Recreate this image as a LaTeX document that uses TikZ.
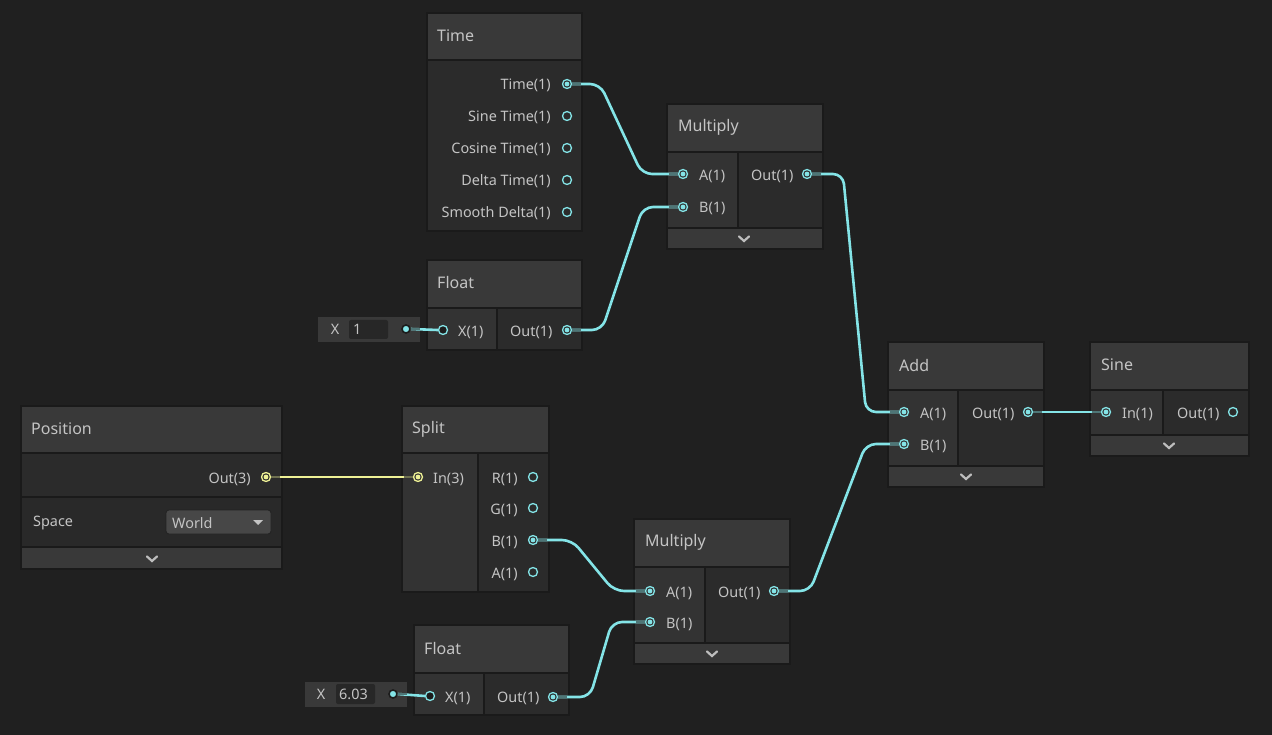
\documentclass[tikz,border=0pt]{standalone}
\usepackage{fontspec}
\setmainfont{Noto Sans}
\definecolor{bgc}{HTML}{202020}
\definecolor{hdrc}{HTML}{393939}
\definecolor{inc}{HTML}{333333}
\definecolor{outc}{HTML}{2B2B2B}
\definecolor{bordc}{HTML}{1A1A1A}
\definecolor{txtc}{HTML}{C4C4C4}
\definecolor{wcyan}{HTML}{84E4E7}
\definecolor{wdim}{HTML}{4E7677}
\definecolor{wyel}{HTML}{EEF195}
\definecolor{ydim}{HTML}{6E7050}
\definecolor{fieldc}{HTML}{393939}
\definecolor{boxc}{HTML}{272727}
\definecolor{dropc}{HTML}{474747}
\definecolor{holec}{HTML}{1C1C1C}
\begin{document}
\begin{tikzpicture}[x=1pt,y=-1pt,
  lbl/.style={font=\fontsize{14.4}{16}\selectfont, text=txtc, inner sep=0pt},
  ttl/.style={font=\fontsize{16}{18}\selectfont, text=txtc, anchor=west, inner sep=0pt},
  bline/.style={draw=bordc, line width=1.5pt},
  port/.style={circle, draw=wcyan, line width=1.3pt, minimum size=9pt, inner sep=0pt, fill=outc},
  conn/.style={path picture={\fill[wcyan] (path picture bounding box.center) circle (2.4pt);}},
  yport/.style={circle, draw=wyel, line width=1.3pt, minimum size=9pt, inner sep=0pt, fill=outc,
    path picture={\fill[wyel] (path picture bounding box.center) circle (2.4pt);}},
  hole/.style={port, fill=holec},
  idot/.style={circle, fill=wcyan, draw=holec, line width=1.6pt, minimum size=8pt, inner sep=0pt},
  wire/.style={draw=wcyan, line width=2.6pt, rounded corners=10pt},
  ywire/.style={draw=wyel, line width=2.8pt},
  dimseg/.style={draw=wdim, line width=2.6pt},
  chev/.style={draw=txtc!110, line width=2.2pt, line cap=round, line join=miter}
]
\useasboundingbox (0,0) rectangle (1272,735);
\fill[bgc] (0,0) rectangle (1272,735);

% ---------- Time node ----------
\fill[hdrc] (427,13) rectangle (582,60);
\fill[outc] (427,60) rectangle (582,231);
\draw[bline] (427,13) rectangle (582,231);
\draw[bline] (427,60) -- (582,60);
\node[ttl] (tT) at (437,36) {Time};
\node[lbl, anchor=east] (l1) at (551,85) {Time(1)};
\node[lbl, anchor=east] (l2) at (551,117) {Sine Time(1)};
\node[lbl, anchor=east] (l3) at (551,149) {Cosine Time(1)};
\node[lbl, anchor=east] (l4) at (551,181) {Delta Time(1)};
\node[lbl, anchor=east] (l5) at (551,213) {Smooth Delta(1)};
\node[port, conn] (tTime) at (567,84) {};
\node[port] (tSin) at (567,116) {};
\node[port] (tCos) at (567,148) {};
\node[port] (tDel) at (567,180) {};
\node[port] (tSmo) at (567,212) {};

% ---------- Float node (top) ----------
\fill[fieldc] (318,317) rectangle (420,342);
\node[lbl, anchor=center] (fxl) at (335,329) {X};
\fill[boxc, rounded corners=2pt] (349,320) rectangle (388,339);
\node[lbl, anchor=west] (fxv) at (353,329) {1};
\fill[hdrc] (427,260) rectangle (582,308);
\fill[inc] (427,308) rectangle (497,350);
\fill[outc] (497,308) rectangle (582,350);
\draw[bline] (427,260) rectangle (582,350);
\draw[bline] (427,308) -- (582,308);
\draw[bline] (497,308) -- (497,350);
\node[ttl] (fT) at (437,283) {Float};
\node[lbl, anchor=west] (fXl) at (458,332) {X(1)};
\node[lbl, anchor=west] (fOl) at (510,332) {Out(1)};
\node[hole] (fX) at (443,330) {};
\node[port, conn] (fOut) at (567,330) {};
\node[idot] (fdot) at (406,329) {};

% ---------- Multiply node (top) ----------
\fill[hdrc] (667,104) rectangle (823,152);
\fill[inc] (667,152) rectangle (738,228);
\fill[outc] (738,152) rectangle (823,228);
\fill[hdrc] (667,228) rectangle (823,249);
\draw[bline] (667,104) rectangle (823,249);
\draw[bline] (667,152) -- (823,152);
\draw[bline] (667,228) -- (823,228);
\draw[bline] (738,152) -- (738,228);
\node[ttl] (mT) at (678,127) {Multiply};
\node[lbl, anchor=west] (mAl) at (699,176) {A(1)};
\node[lbl, anchor=west] (mBl) at (699,208) {B(1)};
\node[lbl, anchor=west] (mOl) at (751,176) {Out(1)};
\node[port, conn, fill=inc] (mA) at (683,174) {};
\node[port, conn, fill=inc] (mB) at (683,207) {};
\node[port, conn] (mOut) at (807,174) {};
\draw[chev] (739,236.5) -- (744,241) -- (749,236.5);

% ---------- Position node ----------
\fill[hdrc] (21,406) rectangle (282,453);
\fill[outc] (21,453) rectangle (282,497);
\fill[inc!105!white] (21,497) rectangle (282,547);
\fill[hdrc] (21,547) rectangle (282,569);
\draw[bline] (21,406) rectangle (282,569);
\draw[bline] (21,453) -- (282,453);
\draw[bline] (21,497) -- (282,497);
\draw[bline] (21,547) -- (282,547);
\node[ttl] (pT) at (31,429) {Position};
\node[lbl, anchor=east] (pOl) at (251,479) {Out(3)};
\node[yport] (pOut) at (266,477) {};
\node[lbl, anchor=west] (pSp) at (33,523) {Space};
\draw[fill=dropc, draw=bordc!80!dropc, line width=0.8pt, rounded corners=3pt] (166,510) rectangle (271,534);
\node[lbl, anchor=west] (pW) at (172,523) {World};
\fill[txtc] (253,520) -- (263,520) -- (258,525) -- cycle;
\draw[chev] (147,556.5) -- (152,561) -- (157,556.5);

% ---------- Split node ----------
\fill[hdrc] (402,406) rectangle (549,453);
\fill[inc] (402,453) rectangle (478,592);
\fill[outc] (478,453) rectangle (549,592);
\draw[bline] (402,406) rectangle (549,592);
\draw[bline] (402,453) -- (549,453);
\draw[bline] (478,453) -- (478,592);
\node[ttl] (sT) at (412,429) {Split};
\node[lbl, anchor=west] (sIl) at (433,479) {In(3)};
\node[lbl, anchor=east] (sRl) at (518,479) {R(1)};
\node[lbl, anchor=east] (sGl) at (518,510) {G(1)};
\node[lbl, anchor=east] (sBl) at (518,542) {B(1)};
\node[lbl, anchor=east] (sAl) at (518,574) {A(1)};
\node[yport, fill=inc] (spIn) at (418,477) {};
\node[port] (spR) at (533,477) {};
\node[port] (spG) at (533,508) {};
\node[port, conn] (spB) at (533,540) {};
\node[port] (spA) at (533,572) {};

% ---------- Multiply node (bottom) ----------
\fill[hdrc] (634,519) rectangle (790,567);
\fill[inc] (634,567) rectangle (705,643);
\fill[outc] (705,567) rectangle (790,643);
\fill[hdrc] (634,643) rectangle (790,664);
\draw[bline] (634,519) rectangle (790,664);
\draw[bline] (634,567) -- (790,567);
\draw[bline] (634,643) -- (790,643);
\draw[bline] (705,567) -- (705,643);
\node[ttl] (m2T) at (645,542) {Multiply};
\node[lbl, anchor=west] (m2Al) at (666,593) {A(1)};
\node[lbl, anchor=west] (m2Bl) at (666,624) {B(1)};
\node[lbl, anchor=west] (m2Ol) at (718,593) {Out(1)};
\node[port, conn, fill=inc] (m2A) at (650,591) {};
\node[port, conn, fill=inc] (m2B) at (650,622) {};
\node[port, conn] (m2Out) at (774,591) {};
\draw[chev] (707,651.5) -- (712,656) -- (717,651.5);

% ---------- Float node (bottom) ----------
\fill[fieldc] (305,682) rectangle (407,707);
\node[lbl, anchor=center] (f2xl) at (321,694) {X};
\fill[boxc, rounded corners=2pt] (336,684) rectangle (375,704);
\node[lbl, anchor=west] (f2xv) at (339,694) {6.03};
\fill[hdrc] (414,625) rectangle (569,673);
\fill[inc] (414,673) rectangle (484,715);
\fill[outc] (484,673) rectangle (569,715);
\draw[bline] (414,625) rectangle (569,715);
\draw[bline] (414,673) -- (569,673);
\draw[bline] (484,673) -- (484,715);
\node[ttl] (f2T) at (424,648) {Float};
\node[lbl, anchor=west] (f2Xl) at (445,698) {X(1)};
\node[lbl, anchor=west] (f2Ol) at (497,698) {Out(1)};
\node[hole] (f2X) at (430,696) {};
\node[port, conn] (f2Out) at (553,697) {};
\node[idot] (f2dot) at (393,694) {};

% ---------- Add node ----------
\fill[hdrc] (888,342) rectangle (1044,390);
\fill[inc] (888,390) rectangle (958,466);
\fill[outc] (958,390) rectangle (1044,466);
\fill[hdrc] (888,466) rectangle (1044,487);
\draw[bline] (888,342) rectangle (1044,487);
\draw[bline] (888,390) -- (1044,390);
\draw[bline] (888,466) -- (1044,466);
\draw[bline] (958,390) -- (958,466);
\node[ttl] (aT) at (899,365) {Add};
\node[lbl, anchor=west] (aAl) at (920,414) {A(1)};
\node[lbl, anchor=west] (aBl) at (920,446) {B(1)};
\node[lbl, anchor=west] (aOl) at (972,414) {Out(1)};
\node[port, conn, fill=inc] (aA) at (904,412) {};
\node[port, conn, fill=inc] (aB) at (904,444) {};
\node[port, conn] (aOut) at (1028,412) {};
\draw[chev] (961,474.5) -- (966,479) -- (971,474.5);

% ---------- Sine node ----------
\fill[hdrc] (1090,342) rectangle (1249,390);
\fill[inc] (1090,390) rectangle (1163,435);
\fill[outc] (1163,390) rectangle (1249,435);
\fill[hdrc] (1090,435) rectangle (1249,456);
\draw[bline] (1090,342) rectangle (1249,456);
\draw[bline] (1090,390) -- (1249,390);
\draw[bline] (1090,435) -- (1249,435);
\draw[bline] (1163,390) -- (1163,435);
\node[ttl] (snT) at (1101,365) {Sine};
\node[lbl, anchor=west] (snIl) at (1122,414) {In(1)};
\node[lbl, anchor=west] (snOl) at (1177,414) {Out(1)};
\node[port, conn, fill=inc] (snIn) at (1106,412) {};
\node[port] (snOut) at (1233,412) {};
\draw[chev] (1164,443.5) -- (1169,448) -- (1174,443.5);

% ---------- Wires ----------
\draw[wire] (tTime.east) -- (600,84) -- (642,174) -- (mA.west);
\draw[wire] (fOut.east) -- (602,330) -- (643,207) -- (mB.west);
\draw[wire] (mOut.east) -- (843,174) -- (866,412) -- (aA.west);
\draw[wire] (aOut.east) -- (snIn.west);
\draw[wire] (spB.east) -- (572,540) -- (614,591) -- (m2A.west);
\draw[wire] (f2Out.east) -- (590,697) -- (612,622) -- (m2B.west);
\draw[wire] (m2Out.east) -- (810,591) -- (866,444) -- (aB.west);
\draw[wire] (fdot.east) -- (fX.west);
\draw[wire] (f2dot.east) -- (f2X.west);
\draw[ywire] (pOut.east) -- (spIn.west);
% dim segments near ports
\foreach \p in {tTime,fOut,mOut,aOut,spB,f2Out,m2Out,fdot,f2dot}
  \draw[dimseg] (\p.east) -- ++(9,0);
\foreach \p in {mA,mB,aA,aB,snIn,m2A,m2B}
  \draw[dimseg] (\p.west) -- ++(-9,0);
\draw[draw=ydim, line width=2.8pt] (pOut.east) -- ++(9,0);
\draw[draw=ydim, line width=2.8pt] (spIn.west) -- ++(-9,0);
\end{tikzpicture}
\end{document}
